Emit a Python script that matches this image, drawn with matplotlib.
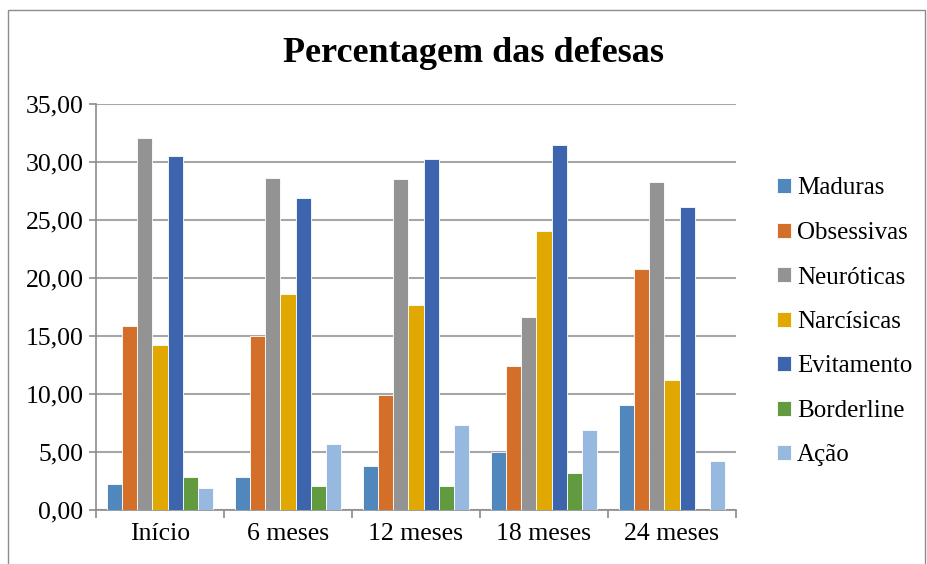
import numpy as np
import matplotlib.pyplot as plt
from matplotlib.patches import Rectangle

# data
categories = ["Início", "6 meses", "12 meses", "18 meses", "24 meses"]
series = ["Maduras", "Obsessivas", "Neuróticas", "Narcísicas",
          "Evitamento", "Borderline", "Ação"]
maduras = [2.22, 2.82, 3.83, 5.04, 9.04]
obsessivas = [15.86, 15.00, 9.93, 12.44, 20.81]
neuroticas = [32.10, 28.64, 28.55, 16.61, 28.30]
narcisicas = [14.25, 18.60, 17.70, 24.04, 11.17]
evitamento = [30.51, 26.86, 30.28, 31.46, 26.14]
borderline = [2.85, 2.07, 2.10, 3.20, 0.0]
acao = [1.90, 5.70, 7.31, 6.88, 4.20]
colors = ["#5088BE", "#D46F2A", "#939393", "#E0A800",
          "#3C65AD", "#629A3F", "#98B9DF"]
values = [maduras, obsessivas, neuroticas, narcisicas,
          evitamento, borderline, acao]

plt.rcParams['font.family'] = ['Liberation Serif', 'DejaVu Serif']

fig = plt.figure(figsize=(9.28, 5.64), dpi=100)
ax = fig.add_axes([96 / 928, 1 - 510 / 564, 640 / 928, 406 / 564])

# outer chart border
fig.patches.append(Rectangle((8 / 928, -0.01), 917 / 928, 1 - 10 / 564 + 0.01,
                             transform=fig.transFigure, fill=False,
                             edgecolor="#8C8C8C", linewidth=1))

n = len(series)
w = 1 / (n + 1.5)
x = np.arange(len(categories))
for i, (name, vals, c) in enumerate(zip(series, values, colors)):
    pos = x - 0.5 + 0.75 * w + (i + 0.5) * w
    ax.bar(pos, vals, width=w, color=c, edgecolor="white",
           linewidth=0.6, label=name, zorder=3)

ax.set_xlim(-0.5, len(categories) - 0.5)
ax.set_ylim(0, 35)
ax.set_yticks(np.arange(0, 36, 5))
ax.set_yticklabels([f"{v:.2f}".replace(".", ",") for v in np.arange(0, 36, 5)])
ax.set_xticks(x)
ax.set_xticklabels(categories)
ax.set_xticks(np.arange(-0.5, len(categories)), minor=True)
ax.tick_params(axis="x", which="major", length=0, pad=9, labelsize=18.5)
ax.tick_params(axis="x", which="minor", length=6, color="#8C8C8C", width=1.2)
ax.tick_params(axis="y", length=5, color="#8C8C8C", width=1.2, pad=4,
               labelsize=18.5)
ax.yaxis.grid(True, color="#A6A6A6", linewidth=1.5, zorder=0)
ax.set_axisbelow(True)
for s in ["top", "right"]:
    ax.spines[s].set_visible(False)
for s in ["left", "bottom"]:
    ax.spines[s].set_color("#8C8C8C")
    ax.spines[s].set_linewidth(1.2)

fig.text(474 / 928, 1 - 54 / 564, "Percentagem das defesas",
         ha="center", va="center", fontsize=26, fontweight="bold")

fig.legend(loc="center left", bbox_to_anchor=(767 / 928, 1 - 322 / 564),
           frameon=False, fontsize=18, handlelength=0.55, handleheight=0.55,
           handletextpad=0.25, labelspacing=0.9, borderaxespad=0)

fig.savefig("out.png", dpi=100)
